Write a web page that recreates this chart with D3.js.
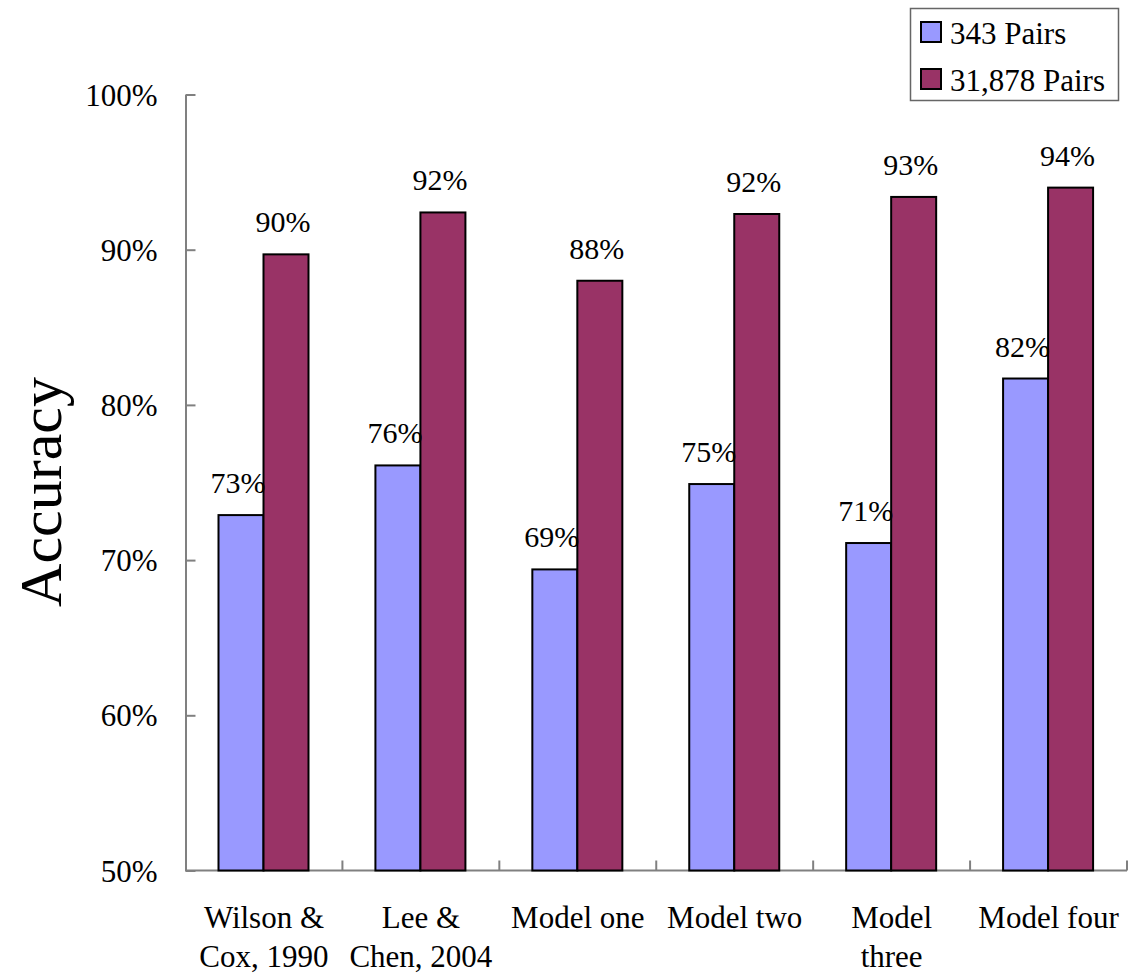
<!DOCTYPE html>
<meta charset="utf-8">
<style>
body { margin: 0; background: #fff; }
text { font-family: "Liberation Serif", "Times New Roman", serif; fill: #000; }
.axis path, .axis line { stroke: #808080; stroke-width: 2; }
.axis text { font-size: 31px; font-family: "Liberation Serif", "Times New Roman", serif; }
</style>
<svg width="1130" height="976"></svg>
<script src="https://d3js.org/d3.v7.min.js"></script>
<script>

var categories = [["Wilson &", "Cox, 1990"], ["Lee &", "Chen, 2004"], ["Model one"], ["Model two"], ["Model", "three"], ["Model four"]];
var series = ["343 Pairs", "31,878 Pairs"];
var pairs343 = [72.9, 76.1, 69.4, 74.9, 71.1, 81.7];
var pairs31878 = [89.7, 92.4, 88.0, 92.3, 93.4, 94.0];
var yTicks = [50, 60, 70, 80, 90, 100];
var colors = ["#9999ff", "#993366"];

var svg = d3.select("svg");

var keys = categories.map(function(c) { return c.join(" "); });

var x = d3.scaleBand()
    .domain(keys)
    .range([185.5, 1127]);

var x1 = d3.scaleBand()
    .domain(series)
    .range([33, 123]);

var y = d3.scaleLinear()
    .domain([50, 100])
    .range([870.5, 94.5]);

// y axis, ticks pointing inward
var yAxis = svg.append("g")
    .attr("class", "axis")
    .attr("transform", "translate(185.5,0)")
    .call(d3.axisLeft(y).tickValues(yTicks).tickSizeInner(-10).tickSizeOuter(0)
      .tickFormat(function(d) { return d + "%"; }));
yAxis.attr("font-family", null).attr("font-size", null);
yAxis.selectAll("text").attr("x", -28).attr("dy", "0.34em");

// x axis with ticks at category boundaries
var xAxis = svg.append("g")
    .attr("class", "axis")
    .attr("transform", "translate(0,870.5)");
xAxis.append("line")
    .attr("x1", x.range()[0]).attr("x2", x.range()[1]);
xAxis.selectAll(".sep")
  .data(keys)
  .enter().append("line")
    .attr("class", "sep")
    .attr("x1", function(d) { return x(d) + x.bandwidth(); })
    .attr("x2", function(d) { return x(d) + x.bandwidth(); })
    .attr("y1", 0).attr("y2", -10);

var labels = svg.append("g").selectAll("text")
  .data(categories)
  .enter().append("text")
    .attr("text-anchor", "middle")
    .attr("font-size", 31)
    .attr("transform", function(d, i) { return "translate(" + (x(keys[i]) + x.bandwidth() / 2) + ",928)"; });
labels.selectAll("tspan")
  .data(function(d) { return d; })
  .enter().append("tspan")
    .attr("x", 0)
    .attr("y", function(d, i) { return i * 38.5; })
    .text(function(d) { return d; });

var rows = keys.map(function(k, i) { return [pairs343[i], pairs31878[i]]; });

var groups = svg.append("g").selectAll("g")
  .data(rows)
  .enter().append("g")
    .attr("transform", function(d, i) { return "translate(" + x(keys[i]) + ",0)"; });

groups.selectAll("rect")
  .data(function(d) { return d; })
  .enter().append("rect")
    .attr("x", function(d, j) { return x1(series[j]); })
    .attr("y", function(d) { return y(d); })
    .attr("width", x1.bandwidth())
    .attr("height", function(d) { return y(50) - y(d); })
    .attr("fill", function(d, j) { return colors[j]; })
    .attr("stroke", "#000")
    .attr("stroke-width", 2);

groups.selectAll(".val")
  .data(function(d) { return d; })
  .enter().append("text")
    .attr("class", "val")
    .attr("text-anchor", "middle")
    .attr("font-size", 30)
    .attr("x", function(d, j) { return x1(series[j]) + x1.bandwidth() / 2 - 3; })
    .attr("y", function(d) { return y(d) - 22; })
    .text(function(d) { return Math.round(d) + "%"; });

// y title
svg.append("text")
    .attr("transform", "translate(61,492) rotate(-90)")
    .attr("text-anchor", "middle")
    .attr("font-size", 60)
    .text("Accuracy");

// legend
var legend = svg.append("g");
legend.append("rect")
    .attr("x", 910.5).attr("y", 8.5)
    .attr("width", 208).attr("height", 92)
    .attr("fill", "#fff")
    .attr("stroke", "#666")
    .attr("stroke-width", 1.5);
var item = legend.selectAll(".item")
  .data(series)
  .enter().append("g")
    .attr("class", "item")
    .attr("transform", function(d, i) { return "translate(921," + (22 + i * 47) + ")"; });
item.append("rect")
    .attr("width", 20).attr("height", 20)
    .attr("fill", function(d, i) { return colors[i]; })
    .attr("stroke", "#000")
    .attr("stroke-width", 2);
item.append("text")
    .attr("x", 29).attr("y", 22)
    .attr("font-size", 31)
    .text(function(d) { return d; });

</script>
